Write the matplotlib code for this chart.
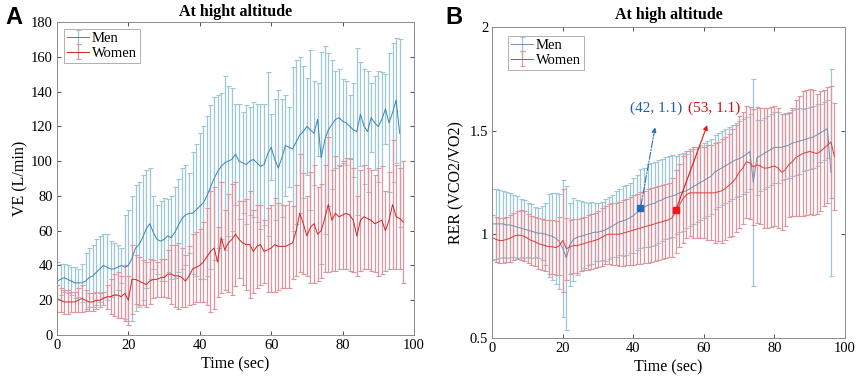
import numpy as np
import matplotlib
matplotlib.use("Agg")
import matplotlib.pyplot as plt

plt.rcParams['font.family'] = ['Liberation Serif', 'DejaVu Serif']

# ---- panel A : VE (L/min), mean and upper/lower whisker ----
men_ve_mean = [31, 32, 33, 32, 31, 30, 30, 30, 31, 33,
               34, 36, 38, 40, 39, 38, 38, 39, 40, 39,
               40, 44, 50, 52, 56, 61, 64, 59, 55, 54,
               55, 57, 56, 59, 63, 67, 69, 70, 70, 72,
               74, 76, 80, 85, 90, 94, 97, 99, 100, 101,
               104, 100, 99, 98, 100, 101, 99, 97, 98, 104,
               108, 101, 96, 102, 109, 108, 107, 111, 115, 117,
               120, 118, 116, 124, 102, 112, 118, 121, 124, 125,
               123, 122, 120, 118, 117, 127, 120, 117, 125, 122,
               120, 124, 130, 122, 128, 135, 116]
men_ve_upper = [42, 41, 41, 40, 39, 39, 38, 41, 47, 50,
                52, 55, 57, 58, 58, 54, 53, 52, 50, 69,
                72, 80, 86, 88, 92, 95, 96, 80, 75, 77,
                79, 78, 80, 85, 90, 96, 98, 93, 105, 110,
                116, 120, 126, 132, 137, 138, 139, 149, 143, 142,
                133, 133, 128, 132, 131, 134, 133, 133, 133, 151,
                127, 136, 141, 136, 138, 131, 154, 158, 160, 155,
                148, 164, 146, 145, 163, 166, 162, 158, 152, 153,
                147, 146, 138, 145, 165, 157, 153, 152, 145, 149,
                152, 151, 150, 162, 168, 171, 170]
women_ve_mean = [21, 20, 19, 19, 19, 19, 20, 21, 20, 19,
                 19, 20, 20, 21, 22, 22, 23, 23, 22, 24,
                 20, 32, 32, 31, 30, 29, 31, 32, 32, 33,
                 33, 35, 35, 34, 34, 33, 31, 34, 38, 39,
                 40, 42, 45, 48, 50, 42, 56, 49, 53, 55,
                 58, 55, 53, 52, 52, 48, 51, 52, 48, 49,
                 50, 52, 51, 51, 51, 52, 53, 60, 70, 64,
                 57, 62, 64, 58, 60, 67, 75, 66, 70, 68,
                 69, 70, 69, 66, 57, 66, 68, 67, 66, 64,
                 65, 66, 60, 66, 75, 68, 67, 65]
women_ve_lower = [13, 13, 12, 12, 13, 13, 13, 13, 14, 14,
                  14, 15, 16, 17, 15, 12, 11, 10, 10, 8,
                  6, 12, 18, 17, 17, 16, 18, 21, 22, 22,
                  22, 21, 18, 16, 15, 16, 16, 17, 18, 19,
                  19, 19, 17, 13, 15, 22, 24, 26, 25, 23,
                  28, 33, 29, 26, 21, 24, 27, 29, 30, 25,
                  25, 25, 26, 27, 27, 27, 32, 34, 36, 35,
                  34, 30, 30, 31, 33, 36, 36, 37, 37, 38,
                  38, 38, 37, 36, 34, 37, 38, 38, 37, 36,
                  34, 35, 37, 38, 38, 38, 38, 30]

# ---- panel B : RER (VCO2/VO2), mean and SD ----
men_rer_mean = [1.05, 1.05, 1.05, 1.05, 1.045, 1.045, 1.04, 1.035, 1.03, 1.025,
                1.02, 1.015, 1.01, 1.005, 1.005, 1.0, 0.995, 0.99, 0.98, 0.965,
                0.93, 0.885, 0.95, 0.975, 0.985, 0.99, 0.995, 1.0, 1.005, 1.01,
                1.01, 1.015, 1.02, 1.03, 1.04, 1.05, 1.06, 1.065, 1.07, 1.08,
                1.09, 1.105, 1.125, 1.13, 1.14, 1.145, 1.15, 1.16, 1.165, 1.175,
                1.18, 1.185, 1.19, 1.2, 1.205, 1.21, 1.22, 1.23, 1.24, 1.25,
                1.26, 1.27, 1.28, 1.3, 1.31, 1.32, 1.33, 1.34, 1.35, 1.36,
                1.365, 1.375, 1.385, 1.40, 1.25, 1.37, 1.38, 1.39, 1.40, 1.41,
                1.42, 1.42, 1.42, 1.425, 1.43, 1.44, 1.445, 1.45, 1.455, 1.46,
                1.465, 1.47, 1.48, 1.49, 1.50, 1.51, 1.30]
men_rer_sd = [0.17, 0.17, 0.165, 0.16, 0.16, 0.155, 0.15, 0.15, 0.14, 0.14,
              0.13, 0.13, 0.12, 0.12, 0.13, 0.15, 0.2, 0.21, 0.22, 0.23,
              0.33, 0.35, 0.2, 0.2, 0.18, 0.17, 0.16, 0.15, 0.15, 0.14,
              0.14, 0.14, 0.15, 0.15, 0.15, 0.16, 0.16, 0.17, 0.17, 0.17,
              0.18, 0.18, 0.19, 0.19, 0.2, 0.2, 0.2, 0.2, 0.2, 0.2,
              0.2, 0.2, 0.19, 0.19, 0.19, 0.18, 0.18, 0.18, 0.18, 0.18,
              0.18, 0.18, 0.18, 0.18, 0.18, 0.18, 0.18, 0.18, 0.18, 0.18,
              0.18, 0.18, 0.18, 0.18, 0.5, 0.18, 0.17, 0.17, 0.17, 0.17,
              0.17, 0.17, 0.16, 0.16, 0.16, 0.16, 0.16, 0.16, 0.15, 0.15,
              0.15, 0.15, 0.15, 0.14, 0.14, 0.14, 0.5]
women_rer_mean = [0.985, 0.975, 0.97, 0.97, 0.975, 0.98, 0.99, 0.995, 0.995, 0.99,
                  0.98, 0.97, 0.965, 0.955, 0.95, 0.945, 0.94, 0.94, 0.935, 0.945,
                  0.97, 0.93, 0.94, 0.945, 0.945, 0.95, 0.955, 0.96, 0.965, 0.97,
                  0.975, 0.985, 0.995, 1.0, 1.0, 1.0, 1.0, 1.005, 1.01, 1.015,
                  1.02, 1.025, 1.03, 1.035, 1.04, 1.045, 1.05, 1.055, 1.06, 1.065,
                  1.07, 1.08, 1.11, 1.14, 1.17, 1.19, 1.2, 1.2, 1.2, 1.2,
                  1.2, 1.2, 1.2, 1.2, 1.205, 1.21, 1.22, 1.235, 1.25, 1.27,
                  1.3, 1.32, 1.35, 1.345, 1.325, 1.335, 1.33, 1.32, 1.32, 1.325,
                  1.33, 1.32, 1.30, 1.31, 1.335, 1.35, 1.37, 1.38, 1.39, 1.395,
                  1.40, 1.395, 1.39, 1.40, 1.415, 1.43, 1.445, 1.375]
women_rer_sd = [0.11, 0.11, 0.11, 0.11, 0.11, 0.115, 0.115, 0.115, 0.12, 0.12,
                0.12, 0.12, 0.12, 0.125, 0.125, 0.125, 0.13, 0.13, 0.13, 0.14,
                0.25, 0.15, 0.13, 0.13, 0.13, 0.13, 0.13, 0.135, 0.135, 0.135,
                0.135, 0.14, 0.14, 0.145, 0.15, 0.15, 0.155, 0.16, 0.16, 0.165,
                0.17, 0.17, 0.175, 0.175, 0.18, 0.18, 0.18, 0.18, 0.18, 0.18,
                0.18, 0.19, 0.2, 0.2, 0.21, 0.21, 0.21, 0.22, 0.22, 0.22,
                0.22, 0.23, 0.23, 0.24, 0.24, 0.25, 0.25, 0.25, 0.26, 0.26,
                0.27, 0.27, 0.27, 0.27, 0.28, 0.28, 0.28, 0.29, 0.29, 0.29,
                0.29, 0.29, 0.28, 0.27, 0.25, 0.26, 0.28, 0.29, 0.3, 0.3,
                0.3, 0.3, 0.29, 0.29, 0.28, 0.28, 0.27, 0.26]

# highlighted points and their labels in panel B
men_point = (42, 1.125)
women_point = (52, 1.115)
men_label = "(42, 1.1)"
women_label = "(53, 1.1)"

MEN_BAR, MEN_CAP, MEN_LINE = '#9dc6d6', '#46677f', '#3385bd'
WOM_BAR, WOM_CAP, WOM_LINE = '#df959d', '#a02a36', '#d42424'


def draw_series(ax, mean, err, bar_c, cap_c, line_c, label):
    t = np.arange(len(mean))
    eb = ax.errorbar(t, mean, yerr=err, color=line_c, ecolor=bar_c, lw=0.7,
                     elinewidth=0.9, capsize=1.8, capthick=0.8, label=label)
    for cap in eb[1]:
        cap.set_color(cap_c)
    return eb


def style_axes(ax):
    ax.set_xlim(0, 100)
    ax.set_xticks([0, 20, 40, 60, 80, 100])
    ax.tick_params(direction='in', length=3, width=0.6, top=True, right=True,
                   labelsize=10.5, colors='#333333', labelcolor='black', pad=3)
    for s in ax.spines.values():
        s.set_color('#8c8c8c')
        s.set_linewidth(0.7)
    ax.set_xlabel("Time (sec)", fontsize=11.5, labelpad=3)


def add_legend(ax, anchor):
    leg = ax.legend(loc='upper left', bbox_to_anchor=anchor, borderaxespad=0,
                    fontsize=10.5, frameon=True, fancybox=False, edgecolor='#8c8c8c',
                    handlelength=1.5, borderpad=0.2, labelspacing=0.1,
                    handletextpad=0.2)
    leg.get_frame().set_linewidth(0.6)
    return leg


fig = plt.figure(figsize=(8.58, 3.80), dpi=100)

# ---------------- panel A ----------------
axA = fig.add_axes([0.0664, 0.1184, 0.4161, 0.8236])
men_ve_err = np.array(men_ve_upper) - np.array(men_ve_mean)
women_ve_err = np.array(women_ve_mean) - np.array(women_ve_lower)
draw_series(axA, men_ve_mean, men_ve_err, MEN_BAR, MEN_CAP, MEN_LINE, "Men")
draw_series(axA, women_ve_mean, women_ve_err, WOM_BAR, WOM_CAP, WOM_LINE, "Women")
style_axes(axA)
axA.set_ylim(0, 180)
axA.set_yticks(range(0, 181, 20))
axA.set_ylabel("VE (L/min)", fontsize=11.5, labelpad=2)
axA.set_title("At hight altitude", fontsize=11.5, fontweight='bold', pad=4)
add_legend(axA, (0.02, 0.978))

# ---------------- panel B ----------------
axB = fig.add_axes([0.5738, 0.1113, 0.4111, 0.8168])
draw_series(axB, men_rer_mean, men_rer_sd, MEN_BAR, MEN_CAP, '#6d8fae', "Men")
draw_series(axB, women_rer_mean, women_rer_sd, WOM_BAR, WOM_CAP, '#e03a3a', "Women")
style_axes(axB)
axB.set_ylim(0.5, 2)
axB.set_yticks([0.5, 1, 1.5, 2])
axB.set_yticklabels(["0.5", "1", "1.5", "2"])
axB.set_ylabel("RER (VCO2/VO2)", fontsize=11.5, labelpad=4)
axB.set_title("At high altitude", fontsize=11.5, fontweight='bold', pad=6)
add_legend(axB, (0.045, 0.972))

axB.plot(*men_point, marker='s', ms=4.5, color='#1f6fc0', zorder=5)
axB.plot(*women_point, marker='s', ms=4.5, color='#f01818', zorder=5)
axB.annotate("", xy=(46.3, 1.53), xytext=men_point,
             arrowprops=dict(arrowstyle='-|>', color='#2a6fb0', lw=0.8,
                             linestyle='-.', mutation_scale=7), zorder=6)
axB.annotate("", xy=(61.2, 1.54), xytext=women_point,
             arrowprops=dict(arrowstyle='-|>', color='#e01818', lw=0.8,
                             mutation_scale=7), zorder=6)
axB.text(46.5, 1.61, men_label, color='#1f5fa8', fontsize=11, ha='center', va='center')
axB.text(62.8, 1.61, women_label, color='#d01010', fontsize=11, ha='center', va='center')

# panel letters
fig.text(0.006, 0.955, "A", fontsize=17, fontweight='bold', family='Liberation Sans',
         va='center')
fig.text(0.519, 0.955, "B", fontsize=17, fontweight='bold', family='Liberation Sans',
         va='center')

fig.savefig("out.png", dpi=100)
